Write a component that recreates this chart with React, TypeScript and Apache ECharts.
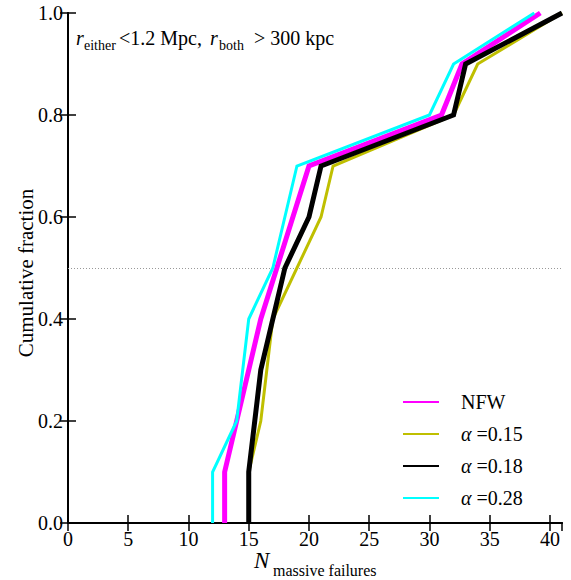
import React, { useEffect, useRef } from "react";
import * as echarts from "echarts";

// Cumulative fraction curves: N_massive_failures vs fraction
const nfwN = [13, 13, 16, 20, 31, 32.7, 39.2];
const nfwF = [0, 0.1, 0.4, 0.7, 0.8, 0.9, 1.0];

const a015N = [15, 15, 16, 17, 21, 22, 32, 34, 41];
const a015F = [0, 0.1, 0.2, 0.4, 0.6, 0.7, 0.8, 0.9, 1.0];

const a018N = [15, 15, 16, 17, 18, 20, 21, 32, 33, 41];
const a018F = [0, 0.1, 0.3, 0.4, 0.5, 0.6, 0.7, 0.8, 0.9, 1.0];

const a028N = [12, 12, 14, 15, 17, 19, 30, 32, 38.7];
const a028F = [0, 0.1, 0.2, 0.4, 0.5, 0.7, 0.8, 0.9, 1.0];

const seriesNames = ["NFW", "α =0.15", "α =0.18", "α =0.28"];
const medianLine = 0.5;

const FONT = "'Liberation Serif', 'Times New Roman', serif";

function zip(xs: number[], ys: number[]) {
  return xs.map((x, i) => [x, ys[i]]);
}

export default function App() {
  const ref = useRef<HTMLDivElement>(null);
  useEffect(() => {
    document.body.style.margin = "0";
    const chart = echarts.init(ref.current!, undefined, { renderer: "svg" });
    const baseAxisLine = { show: true, lineStyle: { color: "#000", width: 2 } };
    const tick = { show: true, inside: true, length: 8, lineStyle: { color: "#000", width: 1.5 } };
    const mkSeries = (name: string, xs: number[], ys: number[], color: string, width: number, extra: any = {}) => ({
      name,
      type: "line",
      data: zip(xs, ys),
      symbol: "none",
      showSymbol: false,
      lineStyle: { color, width, cap: "butt", join: "miter" },
      itemStyle: { color },
      clip: true,
      ...extra,
    });
    chart.setOption({
      animation: false,
      grid: { left: 68, right: 9, top: 13, bottom: 57, containLabel: false },
      xAxis: [
        {
          type: "value",
          min: 0,
          max: 41,
          interval: 5,
          position: "bottom",
          axisLine: baseAxisLine,
          axisTick: tick,
          splitLine: { show: false },
          axisLabel: { color: "#000", fontFamily: FONT, fontSize: 20, margin: 6, showMaxLabel: false },
        },
        {
          type: "value",
          min: 0,
          max: 41,
          interval: 5,
          position: "top",
          axisLine: baseAxisLine,
          axisTick: tick,
          splitLine: { show: false },
          axisLabel: { show: false },
        },
      ],
      yAxis: [
        {
          type: "value",
          min: 0,
          max: 1,
          interval: 0.2,
          position: "left",
          axisLine: baseAxisLine,
          axisTick: tick,
          splitLine: { show: false },
          axisLabel: {
            color: "#000",
            fontFamily: FONT,
            fontSize: 20,
            margin: 5,
            formatter: (v: number) => v.toFixed(1),
          },
        },
        {
          type: "value",
          min: 0,
          max: 1,
          interval: 0.2,
          position: "right",
          axisLine: baseAxisLine,
          axisTick: tick,
          splitLine: { show: false },
          axisLabel: { show: false },
        },
      ],
      legend: {
        orient: "vertical",
        left: 402,
        top: 392,
        padding: 0,
        itemWidth: 36,
        itemHeight: 14,
        itemGap: 12,
        data: seriesNames,
        itemStyle: { opacity: 0, borderWidth: 0 },
        textStyle: {
          color: "#000",
          fontFamily: FONT,
          fontSize: 20,
          lineHeight: 20,
          padding: [0, 0, 0, 17],
          rich: {
            g: { fontFamily: FONT, fontSize: 20, fontStyle: "italic" },
          },
        },
        formatter: (name: string) => (name.startsWith("α") ? "{g|α} " + name.slice(2) : name),
      },
      series: [
        mkSeries(seriesNames[0], nfwN, nfwF, "#ff00ff", 5, {
          markLine: {
            silent: true,
            symbol: "none",
            label: { show: false },
            lineStyle: { color: "#999", width: 1, type: [1, 2] },
            data: [{ yAxis: medianLine }],
            z: 1,
          },
        }),
        mkSeries(seriesNames[1], a015N, a015F, "#bfbf00", 3),
        mkSeries(seriesNames[2], a018N, a018F, "#000000", 5),
        mkSeries(seriesNames[3], a028N, a028F, "#00ffff", 3),
      ],
      graphic: [
        // annotation: r_either < 1.2 Mpc, r_both > 300 kpc
        { type: "text", x: 76, y: 45 - 0.34 * 20, style: { text: "r", font: `italic 20px ${FONT}`, fill: "#000", verticalAlign: "middle" } },
        { type: "text", x: 84, y: 50 - 0.34 * 14, style: { text: "either", font: `14px ${FONT}`, fill: "#000", verticalAlign: "middle" } },
        { type: "text", x: 119, y: 45 - 0.34 * 20, style: { text: "<1.2 Mpc,", font: `20px ${FONT}`, fill: "#000", verticalAlign: "middle" } },
        { type: "text", x: 210, y: 45 - 0.34 * 20, style: { text: "r", font: `italic 20px ${FONT}`, fill: "#000", verticalAlign: "middle" } },
        { type: "text", x: 219, y: 50 - 0.34 * 14, style: { text: "both", font: `14px ${FONT}`, fill: "#000", verticalAlign: "middle" } },
        { type: "text", x: 254, y: 45 - 0.34 * 20, style: { text: "> 300 kpc", font: `20px ${FONT}`, fill: "#000", verticalAlign: "middle" } },
        // x axis title
        { type: "text", x: 254, y: 568 - 0.34 * 23, style: { text: "N", font: `italic 23px ${FONT}`, fill: "#000", verticalAlign: "middle" } },
        { type: "text", x: 273, y: 575.5 - 0.34 * 16, style: { text: "massive failures", font: `16px ${FONT}`, fill: "#000", verticalAlign: "middle" } },
        // y axis title
        {
          type: "text",
          x: 26,
          y: 273,
          rotation: Math.PI / 2,
          style: { text: "Cumulative fraction", font: `21px ${FONT}`, fill: "#000", align: "center", verticalAlign: "middle" },
        },
      ],
    });
    return () => chart.dispose();
  }, []);
  return <div ref={ref} style={{ width: 571, height: 580 }} />;
}
